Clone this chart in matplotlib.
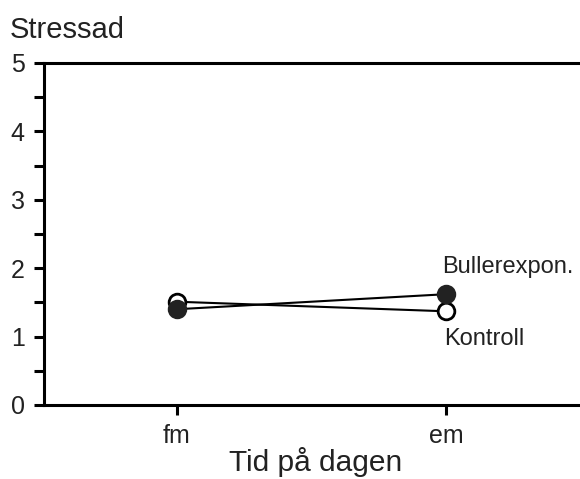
import numpy as np
import matplotlib
matplotlib.use('Agg')
import matplotlib.pyplot as plt

plt.rcParams['font.family'] = ['Liberation Sans', 'DejaVu Sans']

# time of day categories and mean ratings
categories = ['fm', 'em']
buller = [1.40, 1.62]
kontroll = [1.51, 1.37]

fig = plt.figure(figsize=(5.8, 4.79), dpi=100)
ax = fig.add_axes([44 / 580, 1 - 405 / 479, (588 - 44) / 580, (405 - 63) / 479])

x = np.arange(len(categories))
ax.plot(x, kontroll, color='black', lw=1.5, marker='o', ms=12,
        mfc='white', mec='black', mew=2, zorder=3)
ax.plot(x, buller, color='black', lw=1.5, marker='o', ms=12,
        mfc='#222222', mec='#222222', mew=2, zorder=4)

ax.text(x[1] - 0.014, 1.93, 'Bullerexpon.', fontsize=17, color='#222222',
        ha='left', va='baseline')
ax.text(x[1] - 0.006, 0.88, 'Kontroll', fontsize=17, color='#222222',
        ha='left', va='baseline')

ax.set_xlim(-0.494, 1.528)
ax.set_ylim(0, 5)
ax.set_xticks(x)
ax.set_xticklabels(categories)
ax.set_yticks(np.arange(0, 6, 1))
ax.set_yticks(np.arange(0.5, 5, 1), minor=True)

for side in ['left', 'bottom', 'top']:
    ax.spines[side].set_linewidth(2.2)
ax.spines['right'].set_visible(False)

ax.tick_params(axis='both', which='both', direction='out', length=7, width=2.2,
               labelsize=18, colors='black', labelcolor='#222222')
ax.tick_params(axis='y', pad=7)
ax.tick_params(axis='x', pad=7)

ax.set_xlabel('Tid på dagen', fontsize=21.5, color='#222222', labelpad=-1)
fig.text(10 / 580, 1 - 38 / 479, 'Stressad', fontsize=21, color='#222222',
         ha='left', va='baseline')

plt.savefig('out.png', dpi=100)
